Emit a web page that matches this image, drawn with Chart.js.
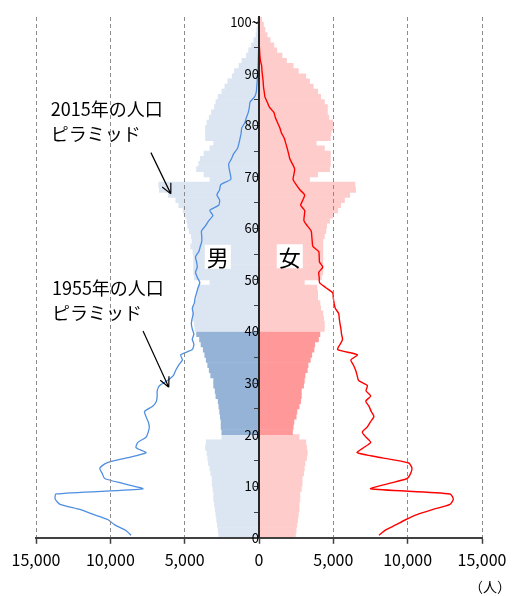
<!DOCTYPE html>
<html lang="ja">
<head>
<meta charset="utf-8">
<title>人口ピラミッド</title>
<script src="https://cdn.jsdelivr.net/npm/chart.js@4/dist/chart.umd.min.js"></script>
<style>
  html, body { margin: 0; padding: 0; background: #fff; }
  .chart-box { position: relative; width: 521px; height: 596px; }
</style>
</head>
<body>
<div class="chart-box"><canvas class="js-chart"></canvas></div>
<script>
const ctx = document.querySelector('.js-chart').getContext('2d');
const FONT = '"Noto Sans CJK JP", "Noto Sans", sans-serif';

// age 0 .. 100 (100 = "100~")
const ages = Array.from({ length: 101 }, (_, i) => i);

// 2015 (bars)
const male2015 = [
  2700, 2750, 2800, 2850, 2900, 2950, 3000, 3050, 3050, 3100,
  3150, 3150, 3250, 3300, 3400, 3450, 3500, 3600, 3550, 2500,
  2500, 2550, 2550, 2600, 2650, 2700, 2750, 2900, 2950, 3050,
  3050, 3250, 3350, 3450, 3550, 3650, 3750, 3900, 4000, 4200,
  4300, 4350, 4450, 4500, 4450, 4300, 4200, 4150, 4100, 3300,
  4350, 4400, 4400, 4400, 4400, 4450, 4600, 4500, 4550, 4700,
  4800, 4850, 4950, 5100, 5400, 5600, 6100, 6700, 6750, 3300,
  3700, 4200, 4050, 3950, 3700, 3300, 3050, 3600, 3600, 3600,
  3500, 3350, 3200, 3000, 2900, 2750, 2500, 2300, 2100, 1800,
  1650, 1350, 1150, 850, 700, 500, 350, 200, 150, 100,
  100
];
const female2015 = [
  2450, 2500, 2550, 2600, 2650, 2700, 2700, 2750, 2750, 2850,
  2900, 2900, 3000, 3050, 3100, 3200, 3250, 3200, 3150, 2700,
  2250, 2300, 2350, 2500, 2550, 2700, 2800, 2850, 2850, 3000,
  3050, 3100, 3250, 3300, 3450, 3550, 3700, 3750, 4000, 4100,
  4400, 4400, 4350, 4300, 4150, 4100, 3950, 3950, 3900, 3050,
  4200, 4300, 4300, 4300, 4300, 4300, 4300, 4300, 4400, 4500,
  4550, 4750, 4950, 5300, 5500, 5750, 6100, 6500, 6450, 3400,
  3950, 4750, 4800, 4800, 4800, 4400, 3850, 4800, 4850, 5000,
  4950, 4700, 4600, 4600, 4400, 4150, 3950, 3650, 3400, 3150,
  2650, 2300, 1850, 1550, 1200, 1000, 750, 550, 400, 300,
  180
];

// 1955 (lines)
const male1955 = [
  8600, 9000, 9700, 10150, 11100, 12050, 13380, 13710, 13650, 7820,
  9100, 10380, 10550, 10710, 10270, 8900, 7600, 8270, 8150, 7600,
  7450, 7380, 7450, 7600, 7700, 7150, 6900, 6850, 6850, 6700,
  6150, 5750, 5600, 5400, 5150, 5270, 4490, 4380, 4490, 4380,
  4490, 4550, 4500, 4420, 4490, 4350, 4300, 4200, 4100, 3980,
  4150, 4270, 4150, 4200, 4270, 4050, 3950, 3850, 3850, 3870,
  3600, 3380, 3100, 3310, 2710, 2650, 2830, 2650, 2570, 1900,
  1930, 2000, 2040, 1850, 1700, 1450, 1350, 1270, 1200, 1160,
  950, 850, 720, 650, 600, 300, 180, 150, 120, 110,
  80, 60, 50, 40, 30, 20, 10, 10, 0, 0,
  0
];
const female1955 = [
  8070, 8500, 9200, 9850, 10620, 11700, 12850, 13070, 12850, 7510,
  8700, 9960, 10200, 10290, 10070, 8300, 6600, 7050, 7510, 7200,
  6950, 7290, 7500, 7730, 7550, 7400, 7180, 7510, 7200, 7290,
  6700, 6600, 6500, 6350, 6180, 6620, 5290, 5450, 5620, 5550,
  5510, 5450, 5400, 5360, 5130, 5050, 5000, 4960, 4500, 4070,
  4050, 4020, 4290, 4070, 4050, 4020, 3620, 3580, 3550, 3510,
  3250, 3020, 3050, 3070, 2800, 2950, 3070, 2750, 2500, 2290,
  2350, 2400, 2250, 2070, 1990, 1900, 1800, 1700, 1510, 1400,
  1250, 1100, 1000, 700, 550, 400, 350, 300, 280, 240,
  200, 180, 100, 60, 40, 20, 10, 10, 0, 0,
  0
];

const xTicks = [-15000, -10000, -5000, 0, 5000, 10000, 15000];
const ageLabels = [0, 10, 20, 30, 40, 50, 60, 70, 80, 90, 100];
const darkAges = [20, 39]; // highlighted band

const isDark = age => age >= darkAges[0] && age <= darkAges[1];
const toPoints = (values, sign) => values.map((v, i) => ({ x: sign * v, y: ages[i] + 0.5 }));

// annotations in data space (value, age)
const notes = [
  { lines: ['2015年の人口', 'ピラミッド'], x: -14000, age: 83.2, from: [-7270, 74.7], to: [-5930, 66.7] },
  { lines: ['1955年の人口', 'ピラミッド'], x: -13930, age: 48.4, from: [-7800, 40.1], to: [-6070, 29.2] }
];
const sexLabels = [
  { text: '男', x: -2770, age: 54.5 },
  { text: '女', x: 2070, age: 54.6 }
];

const notesPlugin = {
  id: 'notes',
  afterDraw(chart) {
    const { x: xs, y: ys } = chart.scales;
    const c = chart.ctx;
    c.save();
    c.fillStyle = '#000';
    c.strokeStyle = '#000';
    c.textBaseline = 'middle';

    c.font = `18px ${FONT}`;
    c.textAlign = 'left';
    notes.forEach(n => {
      n.lines.forEach((t, i) => c.fillText(t, xs.getPixelForValue(n.x), ys.getPixelForValue(n.age) + i * 25));
      const x1 = xs.getPixelForValue(n.from[0]), y1 = ys.getPixelForValue(n.from[1]);
      const x2 = xs.getPixelForValue(n.to[0]), y2 = ys.getPixelForValue(n.to[1]);
      c.lineWidth = 1.2;
      c.beginPath();
      c.moveTo(x1, y1);
      c.lineTo(x2, y2);
      const ang = Math.atan2(y2 - y1, x2 - x1);
      [0.45, -0.45].forEach(d => {
        c.moveTo(x2, y2);
        c.lineTo(x2 - 11 * Math.cos(ang + d), y2 - 11 * Math.sin(ang + d));
      });
      c.stroke();
    });

    c.font = `22px ${FONT}`;
    c.textAlign = 'center';
    sexLabels.forEach(s => {
      const px = xs.getPixelForValue(s.x), py = ys.getPixelForValue(s.age);
      c.fillStyle = '#fff';
      c.fillRect(px - 13, py - 12, 26, 24);
      c.fillStyle = '#000';
      c.fillText(s.text, px, py + 1);
    });

    c.font = `14px ${FONT}`;
    c.fillText('（人）', chart.chartArea.right + 8, chart.chartArea.bottom + 49);
    c.restore();
  }
};

new Chart(ctx, {
  type: 'bar',
  data: {
    datasets: [
      {
        type: 'line',
        label: '1955年 男',
        data: toPoints(male1955, -1),
        borderColor: '#4f8ee0',
        borderWidth: 1.3,
        pointRadius: 0,
        tension: 0.2,
        order: 0
      },
      {
        type: 'line',
        label: '1955年 女',
        data: toPoints(female1955, 1),
        borderColor: '#ff0000',
        borderWidth: 1.4,
        pointRadius: 0,
        tension: 0.2,
        order: 0
      },
      {
        label: '2015年 男',
        data: toPoints(male2015, -1),
        backgroundColor: c => isDark(ages[c.dataIndex]) ? '#95b3d7' : '#dce6f2',
        barPercentage: 1,
        categoryPercentage: 1,
        grouped: false,
        order: 1
      },
      {
        label: '2015年 女',
        data: toPoints(female2015, 1),
        backgroundColor: c => isDark(ages[c.dataIndex]) ? '#ff9999' : '#ffcccc',
        barPercentage: 1,
        categoryPercentage: 1,
        grouped: false,
        order: 1
      }
    ]
  },
  options: {
    indexAxis: 'y',
    responsive: true,
    maintainAspectRatio: false,
    animation: false,
    layout: { padding: { left: 36, right: 39, top: 17, bottom: 19 } },
    plugins: { legend: { display: false }, tooltip: { enabled: false } },
    scales: {
      x: {
        type: 'linear',
        min: xTicks[0],
        max: xTicks[xTicks.length - 1],
        afterBuildTicks(scale) {
          scale.ticks = xTicks.map(v => ({ value: v }));
        },
        ticks: {
          z: 1,
          font: { family: FONT, size: 16 },
          color: '#000',
          padding: 7,
          maxRotation: 0,
          callback: v => Math.abs(v).toLocaleString('en-US')
        },
        grid: {
          z: 1,
          color: c => (c.tick && c.tick.value === 0) ? 'rgba(0,0,0,0)' : '#8c8c8c',
          lineWidth: 1,
          tickLength: 6,
          tickColor: '#404040',
          tickWidth: 1.5,
          tickBorderDash: []
        },
        border: { z: 2, color: '#404040', width: 2, dash: [4, 3] }
      },
      y: {
        type: 'linear',
        min: 0,
        max: 101,
        offset: false,
        position: { x: 0 },
        ticks: {
          z: 2,
          stepSize: 5,
          includeBounds: false,
          autoSkip: false,
          font: { family: FONT, size: 13 },
          color: '#000',
          padding: -16,
          callback: v => v === 100 ? '100~' : (ageLabels.includes(v) ? String(v) : '')
        },
        grid: {
          z: 2,
          offset: false,
          drawOnChartArea: false,
          tickLength: 4,
          color: '#404040',
          tickColor: '#404040'
        },
        border: { z: 2, color: '#262626', width: 2 }
      }
    }
  },
  plugins: [notesPlugin]
});
</script>
</body>
</html>
